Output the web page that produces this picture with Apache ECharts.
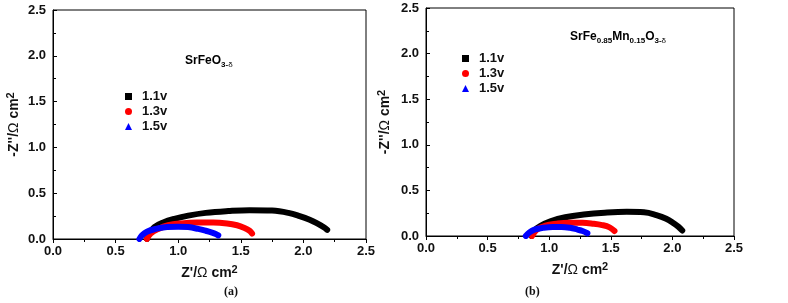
<!DOCTYPE html>
<html><head><meta charset="utf-8">
<script src="https://cdn.jsdelivr.net/npm/echarts@6/dist/echarts.min.js"></script>
<style>html,body{margin:0;padding:0;background:#fff}#c{width:788px;height:303px}</style>
</head><body><div id="c"></div>
<script>
// Panel (a) SrFeO3-δ
const a11x = [0.75,0.77,0.81,0.88,0.97,1.08,1.22,1.40,1.57,1.75,1.88,1.97,2.05,2.11,2.16,2.19];
const a11y = [0.00,0.06,0.13,0.18,0.22,0.255,0.285,0.305,0.315,0.31,0.285,0.25,0.21,0.17,0.13,0.10];
const a13x = [0.75,0.78,0.84,0.92,1.02,1.15,1.28,1.39,1.47,1.53,1.57,1.59];
const a13y = [0.00,0.06,0.11,0.15,0.17,0.18,0.18,0.17,0.15,0.12,0.09,0.06];
const a15x = [0.69,0.71,0.75,0.82,0.91,1.00,1.08,1.16,1.22,1.27,1.30,1.32];
const a15y = [0.00,0.04,0.08,0.11,0.13,0.135,0.13,0.11,0.09,0.07,0.055,0.04];
// Panel (b) SrFe0.85Mn0.15O3-δ
const b11x = [0.855,0.88,0.93,1.01,1.13,1.28,1.45,1.63,1.77,1.87,1.95,2.01,2.05,2.08];
const b11y = [0.00,0.06,0.11,0.16,0.205,0.235,0.255,0.265,0.26,0.23,0.19,0.14,0.10,0.06];
const b13x = [0.86,0.90,0.97,1.06,1.16,1.27,1.36,1.43,1.49,1.53];
const b13y = [0.00,0.07,0.115,0.135,0.145,0.145,0.135,0.12,0.095,0.055];
const b15x = [0.81,0.84,0.88,0.95,1.03,1.10,1.17,1.23,1.27,1.31];
const b15y = [0.00,0.04,0.07,0.09,0.10,0.10,0.09,0.07,0.055,0.03];

const seriesNames = ['1.1v','1.3v','1.5v'];
const colors = ['#000000','#ff0000','#0000ff'];
const icons = ['rect','circle','triangle'];
const xTicks = [0,0.5,1,1.5,2,2.5];
const yTicks = [0,0.5,1,1.5,2,2.5];

const zip = (xs, ys) => xs.map((x,i)=>[x, ys[i]]);
const panels = [
  [zip(a11x,a11y), zip(a13x,a13y), zip(a15x,a15y)],
  [zip(b11x,b11y), zip(b13x,b13y), zip(b15x,b15y)]
];

const font = 'Liberation Sans, Arial, sans-serif';
const grids = [
  {left:53, top:10, width:313, height:229},
  {left:426, top:8, width:308, height:228}
];

function xAxis(i){
  return {type:'value', gridIndex:i, min:0, max:2.5, interval:0.5,
    axisLine:{show:true, onZero:false, lineStyle:{color:'#000', width:1}},
    axisTick:{show:true, inside:false, length:4, lineStyle:{color:'#000'}},
    minorTick:{show:true, splitNumber:2, length:3, lineStyle:{color:'#000'}},
    splitLine:{show:false},
    axisLabel:{color:'#111', fontFamily:font, fontWeight:'bold', fontSize:13, margin:6,
      formatter:v=>v.toFixed(1)},
    name:"{n|Z'/}{o|Ω}{n| cm}{s|2}", nameLocation:'middle', nameGap:25,
    nameTextStyle:{rich:{
      n:{fontFamily:font, fontWeight:'bold', fontSize:14, color:'#111'},
      o:{fontFamily:font, fontSize:14, color:'#111'},
      s:{fontFamily:font, fontWeight:'bold', fontSize:11, color:'#111', padding:[0,0,8,0]}
    }}
  };
}
function yAxis(i){
  return {type:'value', gridIndex:i, min:0, max:2.5, interval:0.5,
    axisLine:{show:true, onZero:false, lineStyle:{color:'#000', width:1}},
    axisTick:{show:true, inside:true, length:4, lineStyle:{color:'#000'}},
    minorTick:{show:true, splitNumber:2, length:3, lineStyle:{color:'#000'}},
    splitLine:{show:false},
    axisLabel:{color:'#111', fontFamily:font, fontWeight:'bold', fontSize:13, margin:7,
      formatter:v=>v.toFixed(1)},
    name:"{n|-Z''/}{o|Ω}{n| cm}{s|2}", nameLocation:'middle', nameGap:i===0?29:31, nameRotate:90,
    nameTextStyle:{rich:{
      n:{fontFamily:font, fontWeight:'bold', fontSize:14, color:'#111'},
      o:{fontFamily:font, fontSize:14, color:'#111'},
      s:{fontFamily:font, fontWeight:'bold', fontSize:11, color:'#111', padding:[0,0,8,0]}
    }}
  };
}

const series = [];
panels.forEach((p, gi) => {
  p.forEach((data, si) => {
    series.push({type:'line', name:seriesNames[si], xAxisIndex:gi, yAxisIndex:gi,
      data, smooth:0.4, showSymbol:false, symbol:icons[si],
      lineStyle:{color:colors[si], width:6, cap:'round'},
      itemStyle:{color:colors[si]}, z:2+si, silent:true});
  });
});

function legend(left, top){
  return {orient:'vertical', left, top, itemWidth:7, itemHeight:7, itemGap:2,
    selectedMode:false,
    data: seriesNames.map((n,i)=>({name:n, icon:icons[i], itemStyle:{color:colors[i]}})),
    textStyle:{fontFamily:font, fontWeight:'bold', fontSize:13, color:'#111', padding:[0,0,0,5]}
  };
}

const sub = {
  n:{fontFamily:font, fontWeight:'bold', fontSize:12, color:'#111'},
  s:{fontFamily:font, fontWeight:'bold', fontSize:8, color:'#111', padding:[7,0,0,0]},
  d:{fontFamily:font, fontSize:8, color:'#111', padding:[7,0,0,0]}
};

const option = {
  animation:false,
  backgroundColor:'#fff',
  grid: grids.map(g => Object.assign({show:true, borderColor:'#000', borderWidth:1, backgroundColor:'transparent'}, g)),
  xAxis:[xAxis(0), xAxis(1)],
  yAxis:[yAxis(0), yAxis(1)],
  legend:[legend(120, 85), legend(457, 47)],
  series,
  graphic:[
    {type:'text', left:185, top:55, style:{text:'{n|SrFeO}{s|3-}{d|δ}', rich:sub}},
    {type:'text', left:570, top:31, style:{text:'{n|SrFe}{s|0.85}{n|Mn}{s|0.15}{n|O}{s|3-}{d|δ}', rich:sub}},
    {type:'text', left:224, top:286, style:{text:'(a)', fontFamily:'Liberation Serif, Times New Roman, serif', fontWeight:'bold', fontSize:12, fill:'#111'}},
    {type:'text', left:525, top:286, style:{text:'(b)', fontFamily:'Liberation Serif, Times New Roman, serif', fontWeight:'bold', fontSize:12, fill:'#111'}}
  ]
};
const chart = echarts.init(document.getElementById('c'), null, {renderer:'canvas'});
chart.setOption(option);
</script>
</body></html>
